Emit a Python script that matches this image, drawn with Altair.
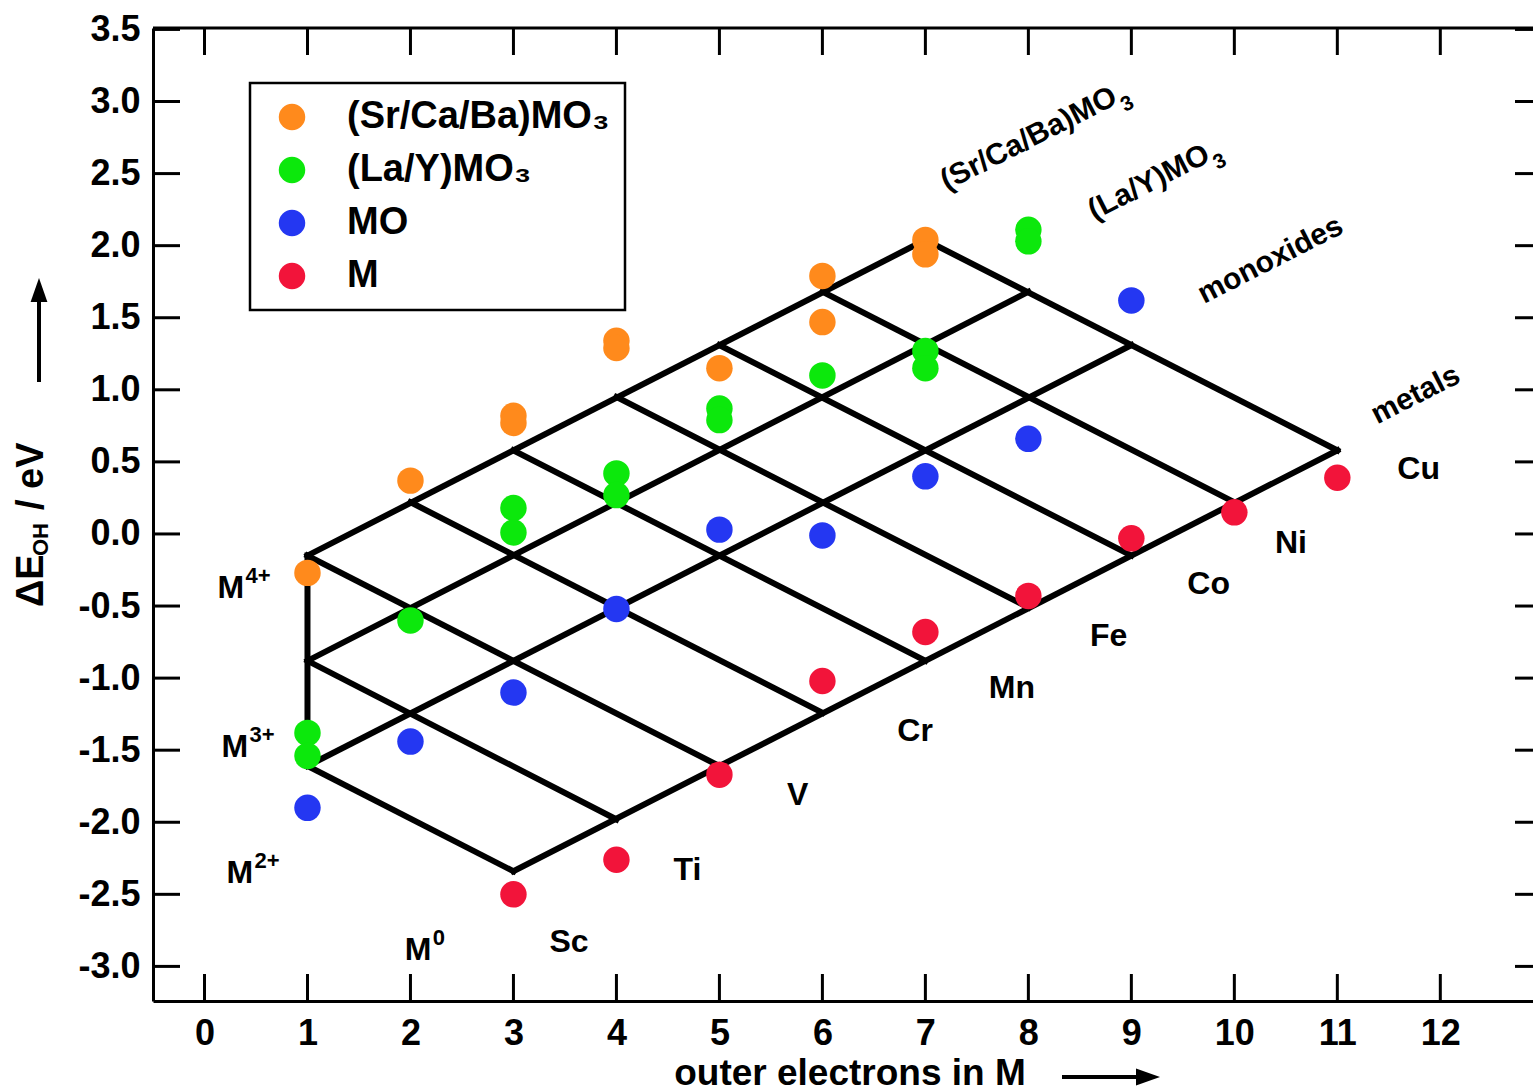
import altair as alt
import pandas as pd

# ---------------- data ----------------
series_names = ["(Sr/Ca/Ba)MO₃", "(La/Y)MO₃", "MO", "M"]
series_colors = ["#FF8A1C", "#0CE80C", "#2437F2", "#F2143A"]

perovskite_x = [1, 2, 3, 3, 4, 4, 5, 6, 6, 7, 7]
perovskite_y = [-0.27, 0.37, 0.82, 0.77, 1.34, 1.29, 1.15, 1.79, 1.47, 2.04, 1.94]

lay_x = [1, 1, 2, 3, 3, 4, 4, 5, 5, 6, 7, 7, 8, 8]
lay_y = [-1.38, -1.54, -0.60, 0.18, 0.01, 0.42, 0.27, 0.87, 0.79, 1.10, 1.27, 1.15, 2.11, 2.03]

monoxide_x = [1, 2, 3, 4, 5, 6, 7, 8, 9]
monoxide_y = [-1.90, -1.44, -1.10, -0.52, 0.03, -0.01, 0.40, 0.66, 1.62]

metal_x = [3, 4, 5, 6, 7, 8, 9, 10, 11]
metal_y = [-2.50, -2.26, -1.67, -1.02, -0.68, -0.43, -0.03, 0.15, 0.39]

# skeleton of the oxidation-state / element grid (segment end points)
grid_x1 = [1, 1, 1, 3, 1, 1, 1, 2, 3, 4, 5, 6, 7, 1]
grid_y1 = [-0.15, -0.88, -1.61, -2.34, -1.61, -0.88, -0.15, 0.22, 0.58, 0.95, 1.31, 1.68, 2.04, -0.15]
grid_x2 = [7, 8, 9, 11, 3, 4, 5, 6, 7, 8, 9, 10, 11, 1]
grid_y2 = [2.04, 1.68, 1.31, 0.58, -2.34, -1.98, -1.61, -1.24, -0.88, -0.51, -0.15, 0.22, 0.58, -1.61]

element_names = ["Sc", "Ti", "V", "Cr", "Mn", "Fe", "Co", "Ni", "Cu"]
element_x = [3.54, 4.69, 5.76, 6.90, 7.84, 8.78, 9.75, 10.55, 11.79]
element_y = [-2.83, -2.33, -1.81, -1.37, -1.07, -0.71, -0.35, -0.06, 0.45]

oxidation_main = ["M", "M", "M", "M"]
oxidation_sup = ["4+", "3+", "2+", "0"]
oxidation_x = [0.126, 0.165, 0.214, 1.944]
oxidation_y = [-0.444, -1.549, -2.424, -2.958]

# compound-family captions along the grid (formula captions end where the subscript starts)
formula_text = ["(Sr/Ca/Ba)MO", "(La/Y)MO"]
formula_sub = ["3", "3"]
formula_x = [8.88, 9.78]
formula_y = [2.99, 2.59]

caption_text = ["monoxides", "metals"]
caption_x = [10.35, 11.76]
caption_y = [1.90, 0.965]

x_ticks = [0, 1, 2, 3, 4, 5, 6, 7, 8, 9, 10, 11, 12]
y_ticks = [-3.0, -2.5, -2.0, -1.5, -1.0, -0.5, 0.0, 0.5, 1.0, 1.5, 2.0, 2.5, 3.0, 3.5]

# ---------------- tables ----------------
points = pd.concat(
    [
        pd.DataFrame({"x": perovskite_x, "y": perovskite_y, "series": series_names[0]}),
        pd.DataFrame({"x": lay_x, "y": lay_y, "series": series_names[1]}),
        pd.DataFrame({"x": monoxide_x, "y": monoxide_y, "series": series_names[2]}),
        pd.DataFrame({"x": metal_x, "y": metal_y, "series": series_names[3]}),
    ],
    ignore_index=True,
)
grid = pd.DataFrame({"x": grid_x1, "y": grid_y1, "x2": grid_x2, "y2": grid_y2})
elements = pd.DataFrame({"x": element_x, "y": element_y, "t": element_names})
oxidation = pd.DataFrame({"x": oxidation_x, "y": oxidation_y, "m": oxidation_main, "s": oxidation_sup})
formulas = pd.DataFrame({"x": formula_x, "y": formula_y, "t": formula_text, "s": formula_sub})
captions = pd.DataFrame({"x": caption_x, "y": caption_y, "t": caption_text})
xt = pd.DataFrame({"x": x_ticks})
yt = pd.DataFrame({"y": y_ticks})
one = pd.DataFrame({"k": [0]})

W, H = 1380, 973
LEFT, TOP = 153, 28
FONT = "Liberation Sans"
TICK = 27
ANGLE = 333

x_axis = alt.Axis(
    values=x_ticks, title=None, grid=False, ticks=False, domain=True,
    domainColor="black", domainWidth=3, labelFont=FONT, labelFontSize=36,
    labelFontWeight="bold", labelColor="black", labelPadding=15, format="d",
)
y_axis = alt.Axis(
    values=y_ticks, title=None, grid=False, ticks=False, domain=True,
    domainColor="black", domainWidth=3, labelFont=FONT, labelFontSize=36,
    labelFontWeight="bold", labelColor="black", labelPadding=13,
    labelExpr="replace(format(datum.value, '.1f'), '−', '-')",
)
X = alt.X("x:Q", scale=alt.Scale(domain=[-0.5, 12.9], nice=False, zero=False), axis=x_axis)
Y = alt.Y("y:Q", scale=alt.Scale(domain=[-3.24, 3.51], nice=False, zero=False), axis=y_axis)

# grid skeleton
grid_layer = alt.Chart(grid).mark_rule(color="black", strokeWidth=6, strokeCap="square").encode(
    x=X, y=Y, x2="x2:Q", y2="y2:Q"
)

# data points
point_layer = alt.Chart(points).mark_circle(size=700, opacity=1).encode(
    x=X, y=Y,
    color=alt.Color(
        "series:N",
        scale=alt.Scale(domain=series_names, range=series_colors),
        legend=alt.Legend(
            title=None, orient="none", legendX=97, legendY=55,
            symbolType="circle", symbolSize=700, symbolOpacity=1, symbolStrokeWidth=0,
            labelFont=FONT, labelFontSize=38, labelFontWeight="bold", labelColor="black",
            labelLimit=500, labelOffset=36, rowPadding=15, padding=15, symbolOffset=8,
            strokeColor="black", fillColor="white",
        ),
    ),
)

element_layer = alt.Chart(elements).mark_text(
    font=FONT, fontSize=32, fontWeight="bold", color="black", align="center", baseline="middle"
).encode(x=X, y=Y, text="t:N")

ox_main_layer = alt.Chart(oxidation).mark_text(
    font=FONT, fontSize=32, fontWeight="bold", color="black", align="left", baseline="alphabetic"
).encode(x=X, y=Y, text="m:N")
ox_sup_layer = alt.Chart(oxidation).mark_text(
    font=FONT, fontSize=22, fontWeight="bold", color="black", align="left", baseline="alphabetic",
    dx=28, dy=-15,
).encode(x=X, y=Y, text="s:N")

formula_layer = alt.Chart(formulas).mark_text(
    font=FONT, fontSize=30, fontWeight="bold", color="black", align="right", baseline="alphabetic",
    angle=ANGLE,
).encode(x=X, y=Y, text="t:N")
formula_sub_layer = alt.Chart(formulas).mark_text(
    font=FONT, fontSize=21, fontWeight="bold", color="black", align="left", baseline="alphabetic",
    angle=ANGLE, dx=1, dy=11,
).encode(x=X, y=Y, text="s:N")
caption_layer = alt.Chart(captions).mark_text(
    font=FONT, fontSize=30, fontWeight="bold", color="black", align="center", baseline="middle",
    angle=ANGLE,
).encode(x=X, y=Y, text="t:N")

# frame ticks pointing inward
bottom_ticks = alt.Chart(xt).mark_rule(color="black", strokeWidth=3).encode(
    x=X, y=alt.value(H), y2=alt.value(H - TICK)
)
top_ticks = alt.Chart(xt).mark_rule(color="black", strokeWidth=3).encode(
    x=X, y=alt.value(0), y2=alt.value(TICK)
)
left_ticks = alt.Chart(yt).mark_rule(color="black", strokeWidth=3).encode(
    y=Y, x=alt.value(0), x2=alt.value(TICK)
)
right_ticks = alt.Chart(yt).mark_rule(color="black", strokeWidth=3).encode(
    y=Y, x=alt.value(W - 18), x2=alt.value(W)
)
top_frame = alt.Chart(one).mark_rule(color="black", strokeWidth=3).encode(
    x=alt.value(0), x2=alt.value(W), y=alt.value(0)
)

# axis titles with sub-scripts and arrows
def label(text, px, py, size, angle=0, align="left"):
    return alt.Chart(one).mark_text(
        text=text, font=FONT, fontSize=size, fontWeight="bold", color="black",
        align=align, baseline="alphabetic", angle=angle,
    ).encode(x=alt.value(px - LEFT), y=alt.value(py - TOP))

y_title = [
    label("ΔE", 43, 607, 38, angle=270),
    label("OH", 48, 556, 22, angle=270),
    label("/ eV", 43, 510, 38, angle=270),
]
x_title = label("outer electrons in M", 850, 1085, 37, align="center")

y_arrow_shaft = alt.Chart(one).mark_rule(color="black", strokeWidth=4).encode(
    x=alt.value(39 - LEFT), y=alt.value(382 - TOP), y2=alt.value(298 - TOP)
)
y_arrow_head = alt.Chart(one).mark_point(
    shape="M0,-1L0.7,1L-0.7,1Z", filled=True, size=576, color="black", opacity=1, strokeWidth=0
).encode(x=alt.value(39 - LEFT), y=alt.value(290 - TOP))

x_arrow_shaft = alt.Chart(one).mark_rule(color="black", strokeWidth=4).encode(
    x=alt.value(1062 - LEFT), x2=alt.value(1142 - LEFT), y=alt.value(1077 - TOP)
)
x_arrow_head = alt.Chart(one).mark_point(
    shape="M1,0L-1,-0.7L-1,0.7Z", filled=True, size=576, color="black", opacity=1, strokeWidth=0
).encode(x=alt.value(1148 - LEFT), y=alt.value(1077 - TOP))

chart = alt.layer(
    grid_layer,
    bottom_ticks, top_ticks, left_ticks, right_ticks, top_frame,
    point_layer,
    element_layer, ox_main_layer, ox_sup_layer,
    formula_layer, formula_sub_layer, caption_layer,
    *y_title, x_title,
    y_arrow_shaft, y_arrow_head, x_arrow_shaft, x_arrow_head,
).properties(
    width=W, height=H,
    padding={"left": LEFT, "top": TOP, "right": 0, "bottom": 1092 - TOP - H},
    autosize=alt.AutoSizeParams(type="none"),
).configure_view(stroke=None).configure_legend(strokeWidth=2.5)

chart.save("out.html", embed_options={"renderer": "svg", "actions": False})
